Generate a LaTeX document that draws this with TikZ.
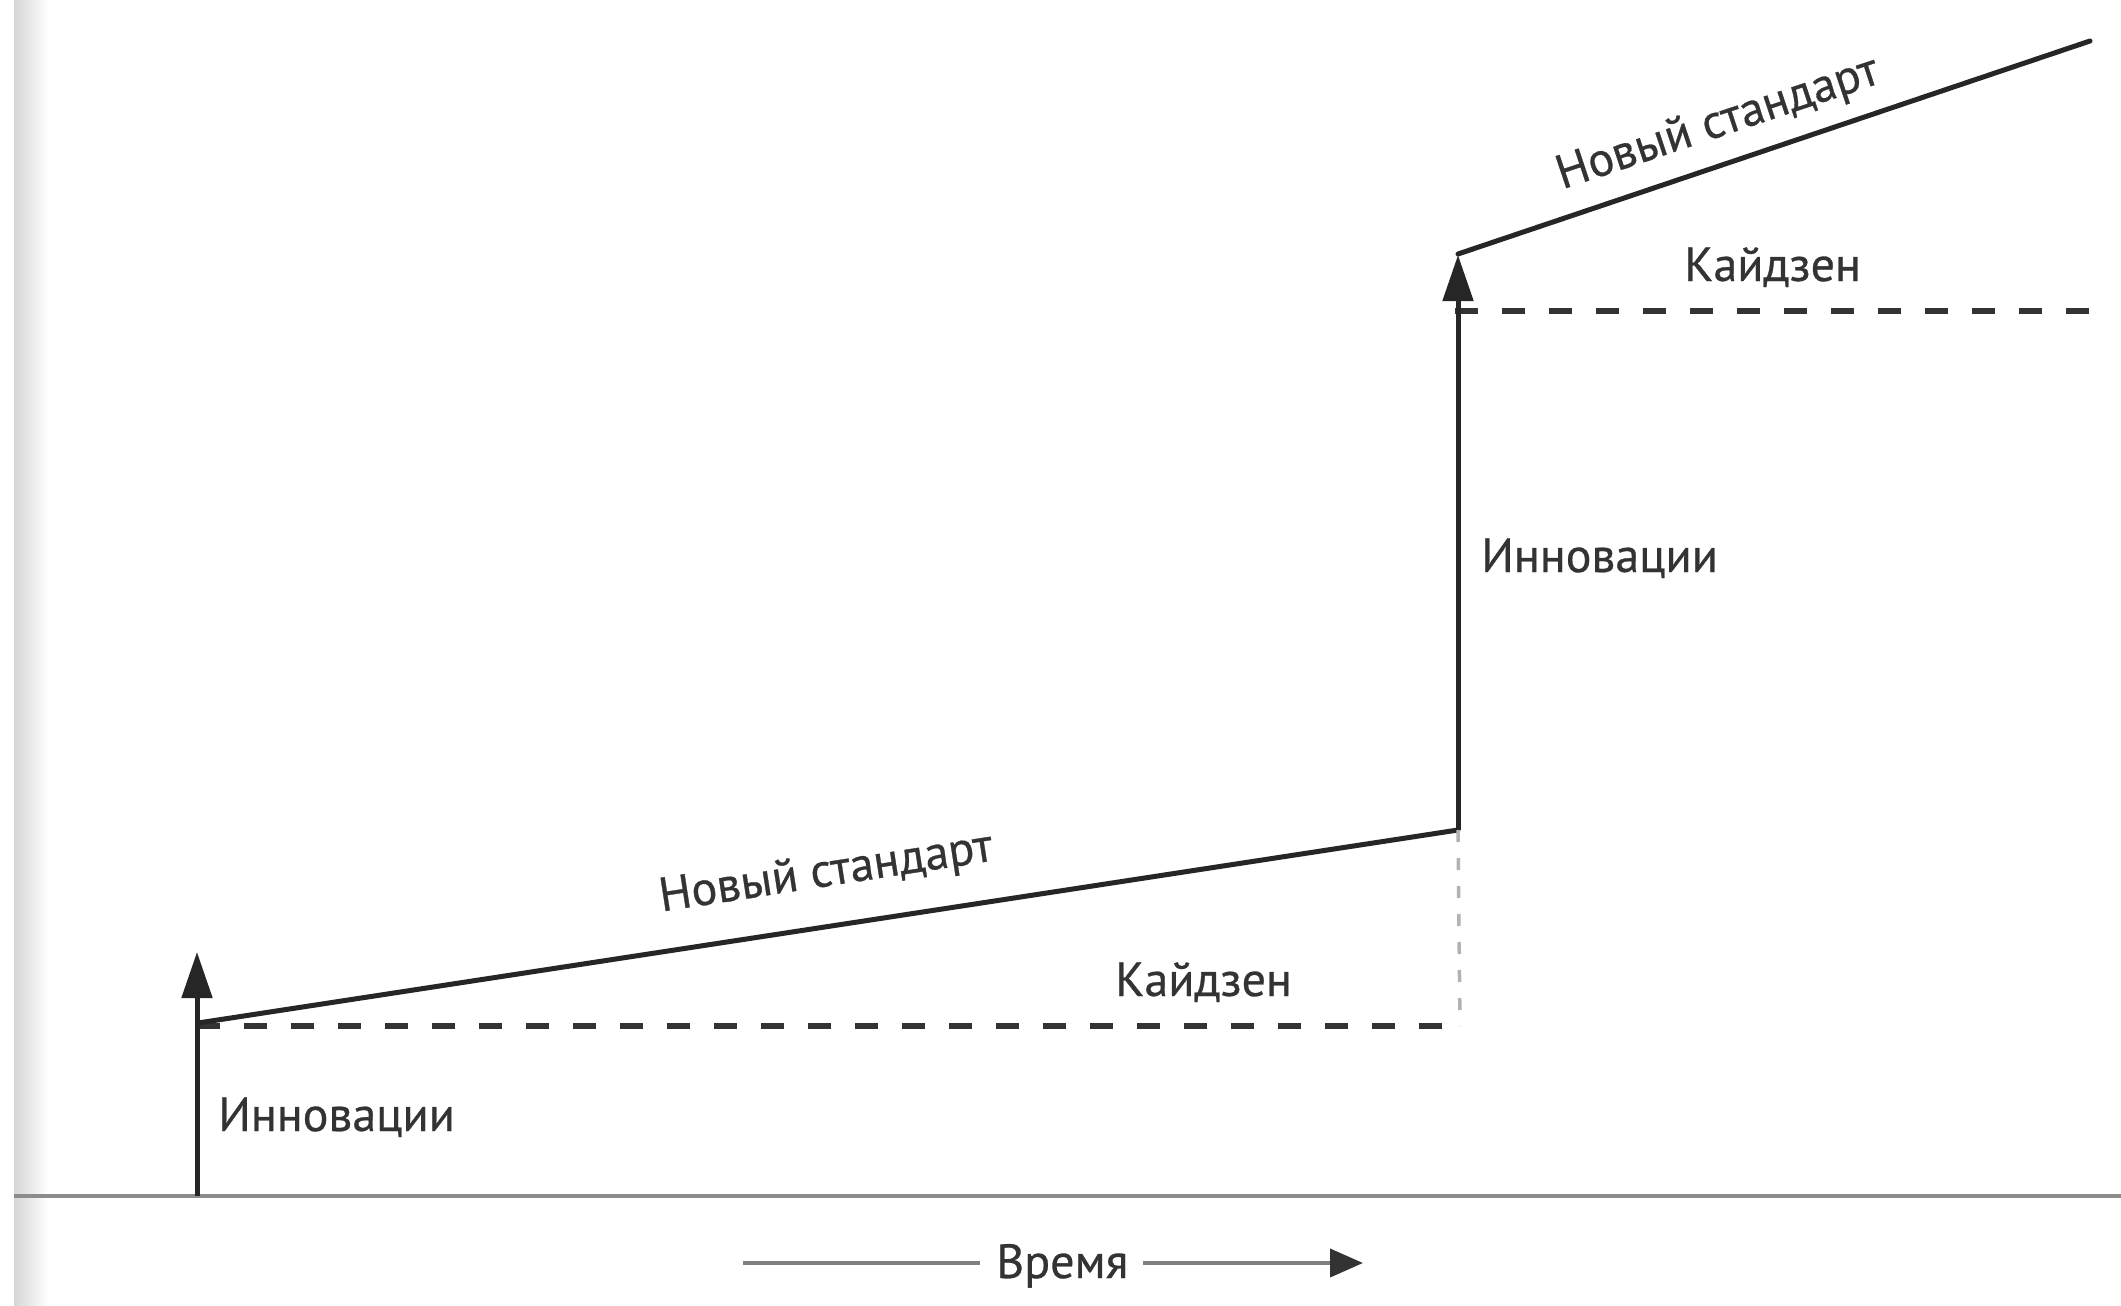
\documentclass[tikz,border=0pt]{standalone}
\usepackage{fontspec}
\setmainfont{PT Sans}
\newfontfamily\lblfont{PT Sans}[FakeBold=0.6]
\usetikzlibrary{arrows.meta}
\begin{document}
\begin{tikzpicture}[x=1pt,y=-1pt,
  lbl/.style={font=\lblfont\fontsize{48}{57}\selectfont, text=black!80, inner sep=0pt},
  stdline/.style={line width=5pt, draw=black!85, line cap=round},
  kaizen/.style={line width=5.5pt, draw=black!80, dash pattern=on 23pt off 24pt},
  drop/.style={line width=3.5pt, draw=black!30, dash pattern=on 12pt off 16pt},
  innov/.style={line width=5pt, draw=black!85, -{Triangle[length=46pt,width=30pt]}},
  axisline/.style={line width=3.5pt, draw=black!45},
  timeline/.style={line width=4pt, draw=black!50},
  timehead/.style={-{Triangle[length=33pt,width=28pt,color=black!80]}},
]
\useasboundingbox (0,0) rectangle (2121,1306);
\fill[white] (0,0) rectangle (2121,1306);
% grey page edge on the left
\shade[left color=black!16, right color=white] (14,0) rectangle (48,1306);

% key points
\coordinate (ax0) at (14,1196);
\coordinate (ax1) at (2121,1196);
\coordinate (a0) at (197,1196);
\coordinate (a1) at (197,952);
\coordinate (s1) at (198,1023);
\coordinate (e1) at (1458,830);
\coordinate (k1s) at (197,1026);
\coordinate (k1e) at (1460,1026);
\coordinate (b1) at (1458,255);
\coordinate (s2) at (1458,254);
\coordinate (e2) at (2090,41);
\coordinate (k2s) at (1455,311);
\coordinate (k2e) at (2100,311);
\coordinate (t0) at (743,1263);
\coordinate (t1) at (980,1263);
\coordinate (t2) at (1143,1263);
\coordinate (t3) at (1363,1263);

% time axis
\draw[axisline] (ax0) -- (ax1);

% first step
\draw[kaizen] (k1s) -- (k1e);
\draw[stdline] (s1) -- (e1);
\draw[innov] (a0) -- (a1);
\draw[drop] (e1) -- (k1e);

% second step
\draw[kaizen] (k2s) -- (k2e);
\draw[stdline] (s2) -- (e2);
\draw[innov] (e1) -- (b1);

% labels
\node[lbl, anchor=base, rotate=8.75] (ns1) at (828,886) {Новый стандарт};
\node[lbl, anchor=base west] (kz1) at (1115,996) {Кайдзен};
\node[lbl, anchor=base west] (in1) at (218,1131) {Инновации};
\node[lbl, anchor=base west] (in2) at (1481,572) {Инновации};
\node[lbl, anchor=base, rotate=18.5] (ns2) at (1722,136) {Новый стандарт};
\node[lbl, anchor=base west] (kz2) at (1684,281) {Кайдзен};
\node[lbl, anchor=base west] (time) at (996,1278) {Время};

% time arrow
\draw[timeline] (t0) -- (t1);
\draw[timeline, timehead] (t2) -- (t3);
\end{tikzpicture}
\end{document}
